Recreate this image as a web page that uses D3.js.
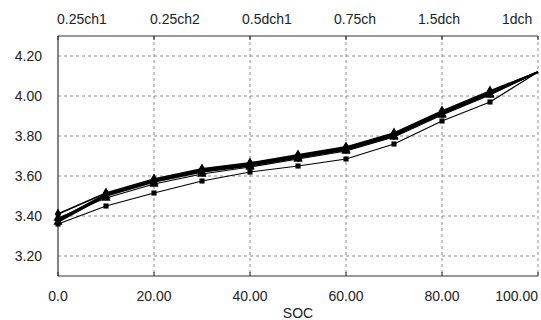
<!DOCTYPE html>
<html>
<head>
<meta charset="UTF-8">
<script src="https://d3js.org/d3.v7.min.js"></script>
<style>
  body { margin: 0; background: #fff; }
  text { font-family: "Liberation Sans", Arial, sans-serif; fill: #222; }
</style>
</head>
<body>
<svg id="chart" width="541" height="320"></svg>
<script>
// SOC points shared by all series
const soc = [0, 10, 20, 30, 40, 50, 60, 70, 80, 90, 100];
const seriesNames = ["0.25ch1", "0.25ch2", "0.5dch1", "0.75ch", "1.5dch", "1dch"];
const v025ch1 = [3.38, 3.51, 3.58, 3.63, 3.66, 3.70, 3.74, 3.81, 3.92, 4.02, 4.12];
const v025ch2 = [3.37, 3.50, 3.57, 3.62, 3.65, 3.69, 3.73, 3.80, 3.91, 4.01, 4.12];
const v05dch1 = [3.41, 3.515, 3.585, 3.635, 3.665, 3.705, 3.745, 3.815, 3.925, 4.025, 4.12];
const v075ch = [3.39, 3.49, 3.56, 3.61, 3.645, 3.685, 3.725, 3.795, 3.905, 4.005, 4.12];
const v15dch = [3.36, 3.45, 3.515, 3.575, 3.62, 3.65, 3.685, 3.76, 3.875, 3.97, 4.12];
const v1dch = [3.38, 3.505, 3.575, 3.625, 3.655, 3.695, 3.735, 3.805, 3.915, 4.015, 4.12];
const xTicks = [0, 20, 40, 60, 80, 100];
const xTickLabels = ["0.0", "20.00", "40.00", "60.00", "80.00", "100.00"];
const yTicks = [3.2, 3.4, 3.6, 3.8, 4.0, 4.2];

const seriesValues = [v025ch1, v025ch2, v05dch1, v075ch, v15dch, v1dch];
const symbols = [d3.symbolDiamond, d3.symbolTriangle, d3.symbolDiamond, d3.symbolTriangle, d3.symbolSquare, d3.symbolDiamond];
const widths = [1.8, 1.5, 1.8, 1.2, 1.2, 2];
const legendX = [57, 150, 242, 334, 418, 502];

const svg = d3.select("#chart");
const x = d3.scaleLinear().domain([0, 100]).range([58, 538]);
const y = d3.scaleLinear().domain([3.1, 4.3]).range([276, 36]);

// grid
svg.append("g").selectAll("line").data(yTicks).join("line")
  .attr("x1", x(0)).attr("x2", x(100))
  .attr("y1", d => y(d)).attr("y2", d => y(d))
  .attr("stroke", "#8a8a8a").attr("stroke-dasharray", "3,3");
svg.append("g").selectAll("line").data(xTicks.slice(1)).join("line")
  .attr("x1", d => x(d)).attr("x2", d => x(d))
  .attr("y1", y(4.3)).attr("y2", y(3.1))
  .attr("stroke", "#8a8a8a").attr("stroke-dasharray", "3,3");

// frame: top, bottom, left
const frame = svg.append("g").attr("stroke", "#333").attr("stroke-width", 1.2);
frame.append("line").attr("x1", x(0)).attr("x2", x(100)).attr("y1", y(4.3)).attr("y2", y(4.3));
frame.append("line").attr("x1", x(0)).attr("x2", x(100)).attr("y1", y(3.1)).attr("y2", y(3.1));
frame.append("line").attr("x1", x(0)).attr("x2", x(0)).attr("y1", y(4.3)).attr("y2", y(3.1));
frame.selectAll(".tt").data(xTicks).join("line")
  .attr("x1", d => x(d)).attr("x2", d => x(d))
  .attr("y1", y(4.3)).attr("y2", y(4.3) + 4);
frame.selectAll(".bt").data(xTicks).join("line")
  .attr("x1", d => x(d)).attr("x2", d => x(d))
  .attr("y1", y(3.1)).attr("y2", y(3.1) - 4);

// axis labels
svg.append("g").selectAll("text").data(yTicks).join("text")
  .attr("x", 42).attr("y", d => y(d) + 5)
  .attr("text-anchor", "end").attr("font-size", 14)
  .text(d => d.toFixed(2));
svg.append("g").selectAll("text").data(xTicks).join("text")
  .attr("x", d => x(d))
  .attr("y", 301)
  .attr("text-anchor", (d, i) => i === xTicks.length - 1 ? "end" : "middle")
  .attr("font-size", 14)
  .text((d, i) => xTickLabels[i]);
svg.append("text").attr("x", x(50)).attr("y", 318)
  .attr("text-anchor", "middle").attr("font-size", 14).text("SOC");

// legend names on top
svg.append("g").selectAll("text").data(seriesNames).join("text")
  .attr("x", (d, i) => legendX[i]).attr("y", 24)
  .attr("font-size", 14).text(d => d);

// series
const line = d3.line().x((d, i) => x(soc[i])).y(d => y(d));
seriesValues.forEach((vals, k) => {
  const g = svg.append("g");
  g.append("path").datum(vals).attr("d", line)
    .attr("fill", "none").attr("stroke", "#000").attr("stroke-width", widths[k]);
  g.selectAll("path.m").data(vals.slice(0, -1)).join("path").attr("class", "m")
    .attr("transform", (d, i) => `translate(${x(soc[i])},${y(d)})`)
    .attr("d", d3.symbol().type(symbols[k]).size(symbols[k] === d3.symbolSquare ? 26 : 36))
    .attr("fill", "#000");
});
</script>
</body>
</html>
